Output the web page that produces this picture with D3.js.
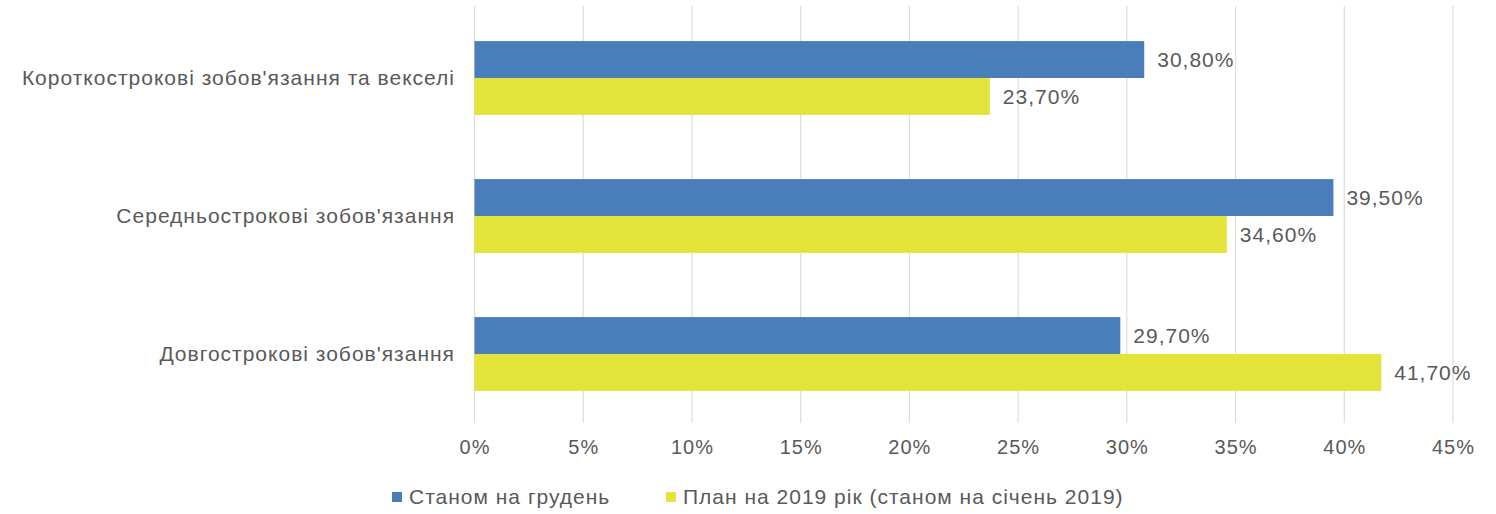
<!DOCTYPE html>
<html>
<head>
<meta charset="utf-8">
<script src="https://cdn.jsdelivr.net/npm/d3@7"></script>
<style>
  body { margin: 0; background: #fff; }
  svg text { font-family: "Liberation Sans", Arial, sans-serif; fill: #595959; letter-spacing: 1px; }
</style>
</head>
<body>
<svg id="chart" width="1496" height="514"></svg>
<script>
// categories top to bottom
var categories = [
  "Короткострокові зобов'язання та векселі",
  "Середньострокові зобов'язання",
  "Довгострокові зобов'язання"
];
var seriesNames = ["Станом на грудень", "План на 2019 рік (станом на січень 2019)"];
var december = [30.8, 39.5, 29.7];
var plan2019 = [23.7, 34.6, 41.7];
var xTicks = [0, 5, 10, 15, 20, 25, 30, 35, 40, 45];

var colors = ["#4a7ebb", "#e3e33a"];
var fontSize = 21;

var svg = d3.select("#chart");
var plotLeft = 474.5, plotRight = 1453, plotTop = 9, plotBottom = 423;

var x = d3.scaleLinear().domain([0, 45]).range([plotLeft, plotRight]);
var y = d3.scaleBand().domain(categories).range([plotTop, plotBottom]).paddingInner(0.465).paddingOuter(0.2325);
var y1 = d3.scaleBand().domain([0, 1]).range([0, y.bandwidth()]);

// gridlines
svg.append("g")
  .selectAll("line")
  .data(xTicks)
  .join("line")
  .attr("x1", d => x(d)).attr("x2", d => x(d))
  .attr("y1", 6).attr("y2", plotBottom)
  .attr("stroke", "#dcdcdc")
  .attr("stroke-width", 1.2);

// x axis labels
var xAxis = d3.axisBottom(x).tickValues(xTicks).tickSize(0).tickPadding(0).tickFormat(d => d + "%");
var gx = svg.append("g").attr("transform", "translate(0," + (plotBottom + 17) + ")").call(xAxis);
gx.select(".domain").remove();
gx.selectAll("text").attr("font-size", 20).attr("dy", "0.71em").style("font-family", null);

// y axis labels
var yAxis = d3.axisLeft(y).tickSize(0).tickPadding(0);
var gy = svg.append("g").attr("transform", "translate(455,0)").call(yAxis);
gy.select(".domain").remove();
gy.selectAll("text").attr("font-size", fontSize).style("font-family", null);

var rows = categories.map((c, i) => ({ cat: c, vals: [december[i], plan2019[i]] }));

var groups = svg.append("g")
  .selectAll("g")
  .data(rows)
  .join("g")
  .attr("transform", d => "translate(0," + y(d.cat) + ")");

groups.selectAll("rect")
  .data(d => d.vals.map((v, k) => ({ v: v, k: k })))
  .join("rect")
  .attr("x", x(0))
  .attr("y", d => y1(d.k))
  .attr("width", d => x(d.v) - x(0))
  .attr("height", y1.bandwidth())
  .attr("fill", d => colors[d.k]);

groups.selectAll("text.val")
  .data(d => d.vals.map((v, k) => ({ v: v, k: k })))
  .join("text")
  .attr("class", "val")
  .attr("x", d => x(d.v) + 13)
  .attr("y", d => y1(d.k) + y1.bandwidth() / 2)
  .attr("dy", "0.35em")
  .attr("font-size", fontSize)
  .text(d => d.v.toFixed(2).replace(".", ",") + "%");

// legend
var legendX = [392, 666];
var legend = svg.append("g")
  .selectAll("g")
  .data(seriesNames)
  .join("g")
  .attr("transform", (d, i) => "translate(" + legendX[i] + ",497)");

legend.append("rect")
  .attr("x", 0).attr("y", -5)
  .attr("width", 10).attr("height", 10)
  .attr("fill", (d, i) => colors[i]);

legend.append("text")
  .attr("x", 17)
  .attr("dy", "0.35em")
  .attr("font-size", fontSize)
  .text(d => d);
</script>
</body>
</html>
